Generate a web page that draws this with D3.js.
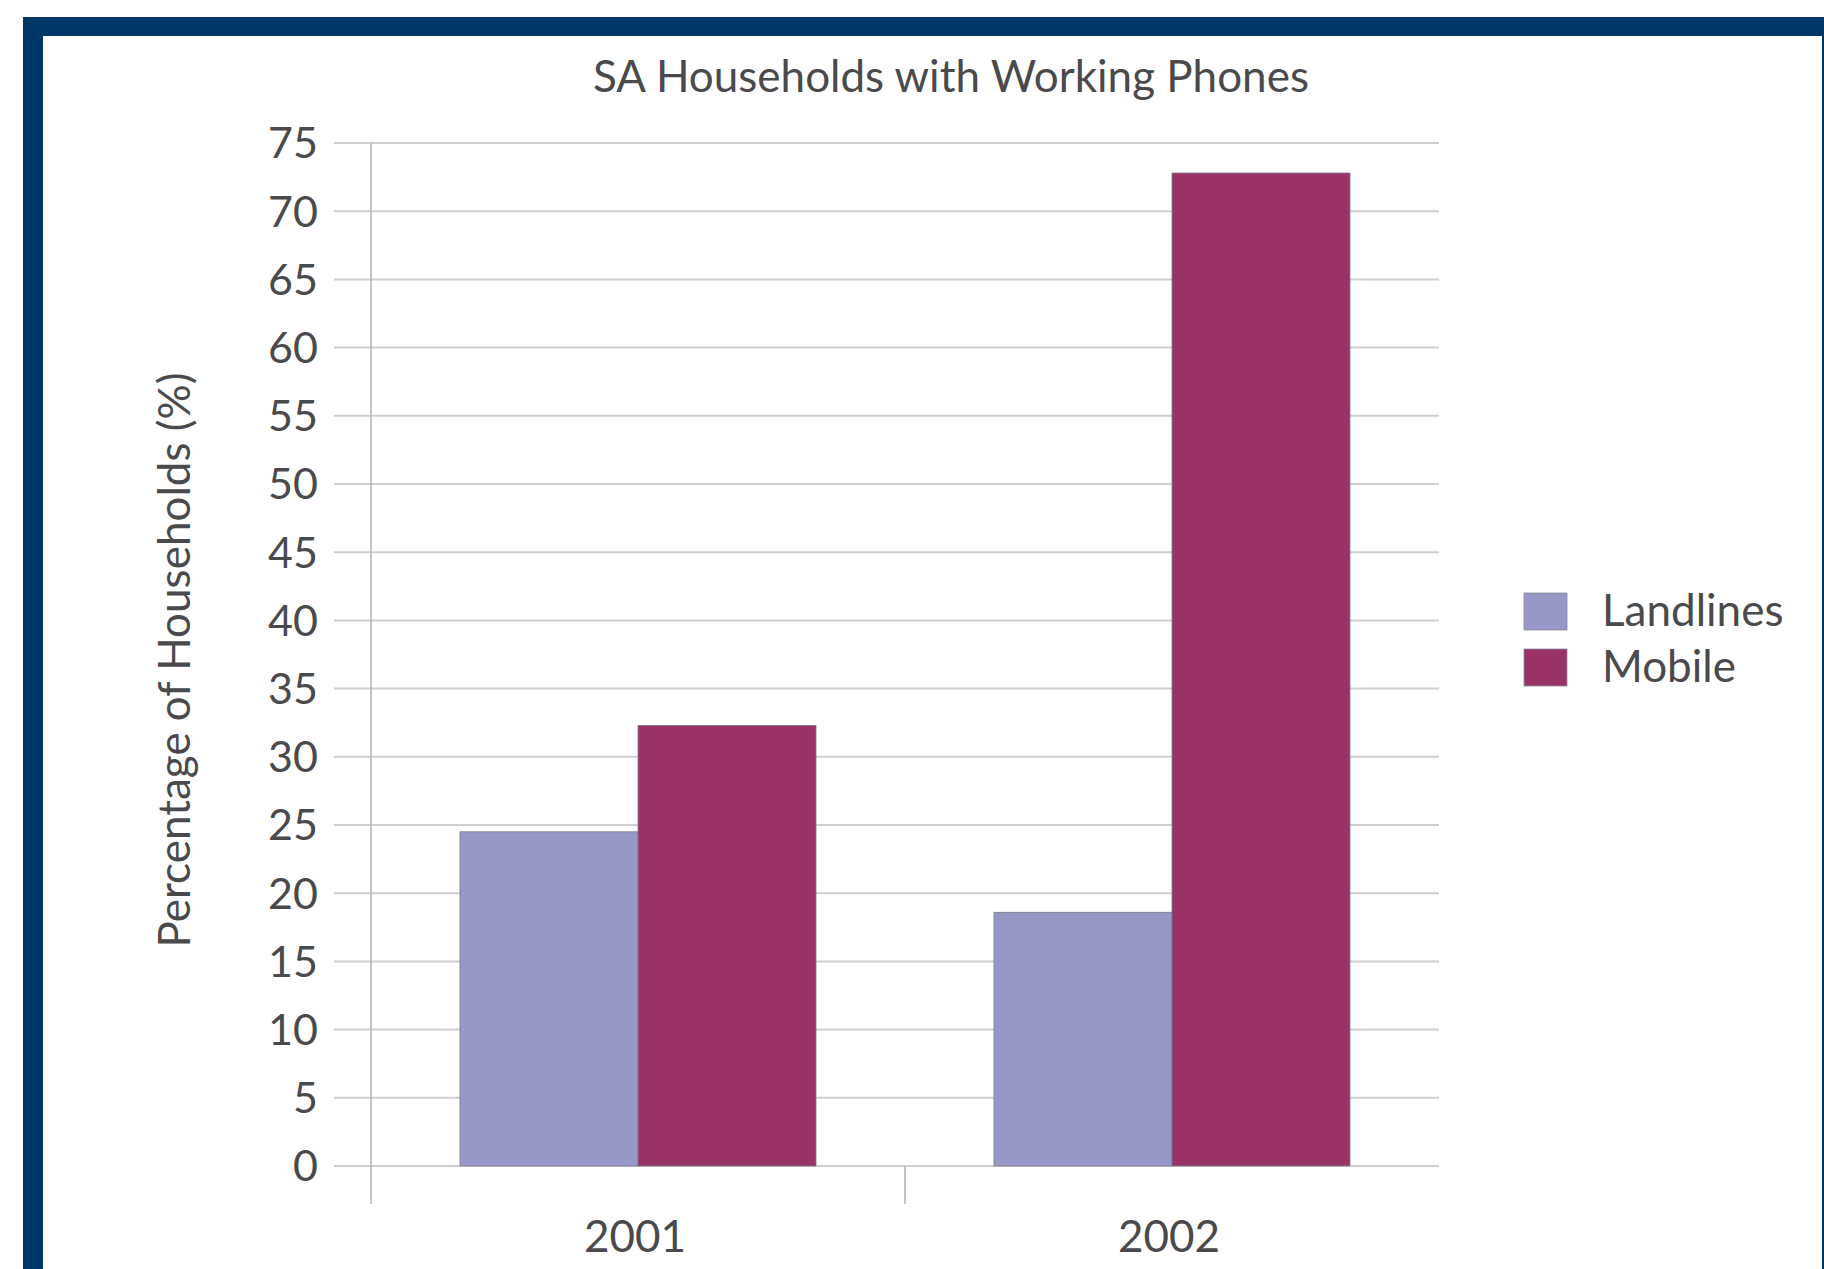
<!DOCTYPE html>
<html>
<head>
<meta charset="utf-8">
<script src="https://cdn.jsdelivr.net/npm/d3@7"></script>
<style>
  body { margin: 0; background: #fff; }
  svg { display: block; }
  text { font-family: Lato, "Open Sans", sans-serif; fill: #4a4a4c; }
</style>
</head>
<body>
<svg id="chart" width="1824" height="1269"></svg>
<script>
let years = ["2001", "2002"]
let seriesNames = ["Landlines", "Mobile"]
let landlines = [24.5, 18.6]
let mobile = [32.3, 72.8]
let yTicks = [0, 5, 10, 15, 20, 25, 30, 35, 40, 45, 50, 55, 60, 65, 70, 75]
let colors = ["#9797c8", "#993366"]

let rows = years.map((y, i) => ({year: y, values: [landlines[i], mobile[i]]}))

let svg = d3.select("#chart")

// frame
svg.append("rect").attr("x", 23).attr("y", 17).attr("width", 1801).attr("height", 1252).attr("fill", "#003567")
svg.append("rect").attr("x", 43).attr("y", 36).attr("width", 1779).attr("height", 1233).attr("fill", "#fff")

let plotLeft = 371, plotRight = 1439, plotTop = 143, plotBottom = 1166

let x0 = d3.scaleBand(years, [plotLeft, plotRight]).paddingInner(0).paddingOuter(0)
let x1 = d3.scaleBand(seriesNames, [0, x0.bandwidth()]).paddingOuter(0.5)
let yScale = d3.scaleLinear([0, 75], [plotBottom, plotTop])

// gridlines + tick labels
let grid = svg.append("g")
grid.selectAll("line")
    .data(yTicks)
    .enter()
    .append("line")
    .attr("x1", 334)
    .attr("x2", plotRight)
    .attr("y1", d => yScale(d))
    .attr("y2", d => yScale(d))
    .attr("stroke", "#cfcfcf")
    .attr("stroke-width", 2)

grid.selectAll("text")
    .data(yTicks)
    .enter()
    .append("text")
    .attr("x", 318)
    .attr("y", d => yScale(d))
    .attr("dy", "0.36em")
    .attr("text-anchor", "end")
    .attr("font-size", 43)
    .text(d => d)

// axis line + category separators
svg.append("line").attr("x1", plotLeft).attr("x2", plotLeft).attr("y1", plotTop).attr("y2", 1204)
    .attr("stroke", "#b0b0b0").attr("stroke-width", 1.5)
svg.selectAll("sep")
    .data(years.slice(1))
    .enter()
    .append("line")
    .attr("x1", d => x0(d))
    .attr("x2", d => x0(d))
    .attr("y1", plotBottom)
    .attr("y2", 1204)
    .attr("stroke", "#b0b0b0")
    .attr("stroke-width", 1.5)

// bars
let groups = svg.selectAll("grp")
    .data(rows)
    .enter()
    .append("g")
    .attr("transform", d => `translate(${x0(d.year)},0)`)

groups.selectAll("rect")
    .data(d => d.values.map((v, i) => ({name: seriesNames[i], value: v, i: i})))
    .enter()
    .append("rect")
    .attr("x", d => x1(d.name))
    .attr("y", d => yScale(d.value))
    .attr("width", x1.bandwidth())
    .attr("height", d => plotBottom - yScale(d.value))
    .attr("fill", d => colors[d.i])
    .attr("stroke", "#7a7a8a")
    .attr("stroke-width", 0.8)

// x labels
svg.selectAll("xlab")
    .data(years)
    .enter()
    .append("text")
    .attr("x", d => x0(d) + x0.bandwidth() / 2 - 3)
    .attr("y", 1252)
    .attr("text-anchor", "middle")
    .attr("font-size", 44)
    .text(d => d)

// title
svg.append("text")
    .attr("x", 951)
    .attr("y", 92)
    .attr("text-anchor", "middle")
    .attr("font-size", 44)
    .text("SA Households with Working Phones")

// y title
svg.append("text")
    .attr("transform", "translate(190,660) rotate(-90)")
    .attr("text-anchor", "middle")
    .attr("font-size", 44)
    .text("Percentage of Households (%)")

// legend
let legend = svg.selectAll("leg")
    .data(seriesNames)
    .enter()
    .append("g")
    .attr("transform", (d, i) => `translate(1524,${593 + i * 56})`)

legend.append("rect")
    .attr("width", 43)
    .attr("height", 37)
    .attr("fill", (d, i) => colors[i])
    .attr("stroke", "#8a8a9a")
    .attr("stroke-width", 0.8)

legend.append("text")
    .attr("x", 78)
    .attr("y", 33)
    .attr("font-size", 44)
    .text(d => d)
</script>
</body>
</html>
